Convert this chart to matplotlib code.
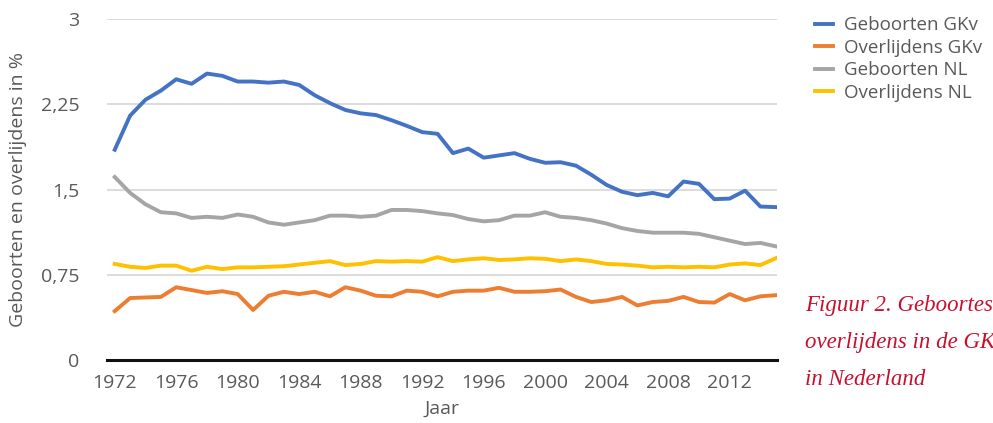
import numpy as np
import matplotlib
matplotlib.use('Agg')
import matplotlib.pyplot as plt
from matplotlib.ticker import FuncFormatter

# data (percentages)
jaren = list(range(1972, 2016))

geboorten_gkv = [1.85, 2.15, 2.29, 2.37, 2.47, 2.43, 2.52, 2.50, 2.45, 2.45,
                 2.44, 2.45, 2.42, 2.33, 2.26, 2.20, 2.17, 2.155, 2.11, 2.06,
                 2.005, 1.99, 1.82, 1.86, 1.78, 1.80, 1.82, 1.77, 1.735, 1.74,
                 1.71, 1.63, 1.54, 1.48, 1.45, 1.47, 1.44, 1.57, 1.55, 1.415,
                 1.42, 1.49, 1.35, 1.345]
overlijdens_gkv = [0.43, 0.545, 0.55, 0.555, 0.64, 0.615, 0.59, 0.605, 0.58, 0.44,
                   0.565, 0.60, 0.58, 0.60, 0.56, 0.64, 0.61, 0.565, 0.56, 0.61,
                   0.60, 0.56, 0.60, 0.61, 0.61, 0.635, 0.60, 0.60, 0.605, 0.62,
                   0.555, 0.51, 0.525, 0.555, 0.48, 0.51, 0.52, 0.555, 0.51, 0.505,
                   0.58, 0.525, 0.56, 0.57]
geboorten_nl = [1.61, 1.47, 1.37, 1.30, 1.29, 1.25, 1.26, 1.25, 1.28, 1.26,
                1.21, 1.19, 1.21, 1.23, 1.27, 1.27, 1.26, 1.27, 1.32, 1.32,
                1.31, 1.29, 1.275, 1.24, 1.22, 1.23, 1.27, 1.27, 1.30, 1.26,
                1.25, 1.23, 1.20, 1.16, 1.135, 1.12, 1.12, 1.12, 1.11, 1.08,
                1.05, 1.02, 1.03, 1.00]
overlijdens_nl = [0.845, 0.82, 0.81, 0.83, 0.83, 0.785, 0.82, 0.80, 0.815, 0.815,
                  0.82, 0.825, 0.84, 0.855, 0.87, 0.835, 0.845, 0.87, 0.865, 0.87,
                  0.865, 0.905, 0.87, 0.885, 0.895, 0.88, 0.885, 0.895, 0.89, 0.87,
                  0.885, 0.87, 0.845, 0.84, 0.83, 0.815, 0.82, 0.815, 0.82, 0.815,
                  0.84, 0.85, 0.835, 0.895]

reeksen = ['Geboorten GKv', 'Overlijdens GKv', 'Geboorten NL', 'Overlijdens NL']
kleuren = ['#4472C4', '#ED7D31', '#A5A5A5', '#FFC000']
y_ticks = [0, 0.75, 1.5, 2.25, 3]
x_ticks = list(range(1972, 2013, 4))

plt.rcParams['font.family'] = ['Open Sans', 'DejaVu Sans']
tekstkleur = '#595959'

fig = plt.figure(figsize=(9.93, 4.23), dpi=100)
ax = fig.add_axes([0.1078, 0.149, 0.675, 0.806])

lijnen = []
for waarden, naam, kleur in zip([geboorten_gkv, overlijdens_gkv, geboorten_nl, overlijdens_nl],
                                reeksen, kleuren):
    l, = ax.plot(jaren, waarden, color=kleur, lw=2.8, label=naam, solid_joinstyle='round')
    lijnen.append(l)

ax.set_xlim(1971.5, 2015.1)
ax.set_ylim(0, 3)
ax.set_yticks(y_ticks)
ax.yaxis.set_major_formatter(FuncFormatter(lambda v, p: ('%g' % v).replace('.', ',')))
ax.set_xticks(x_ticks)
ax.grid(axis='y', color='#d9d9d9', lw=1.3)
ax.set_axisbelow(True)
for s in ['left', 'right', 'top']:
    ax.spines[s].set_visible(False)
ax.spines['bottom'].set_color('#111111')
ax.spines['bottom'].set_linewidth(2.2)
ax.tick_params(length=0, labelsize=14, labelcolor=tekstkleur)
ax.tick_params(axis='y', pad=20)
ax.tick_params(axis='x', pad=10)
ax.set_xlabel('Jaar', fontsize=14, color=tekstkleur, labelpad=6)
ax.set_ylabel('Geboorten en overlijdens in %', fontsize=14, color=tekstkleur, labelpad=10)

fig.legend(handles=lijnen, loc='upper left', bbox_to_anchor=(0.821, 0.962), frameon=False,
           fontsize=13.5, handlelength=0.92, handletextpad=0.6, labelspacing=0.24,
           borderpad=0, borderaxespad=0, labelcolor=tekstkleur)

fig.text(0.811, 0.19, 'Figuur 2. Geboortes en\noverlijdens in de GKv en\nin Nederland',
         family='Liberation Serif', style='italic', fontsize=16.5, color='#c8102e',
         va='center', ha='left', linespacing=2.0)

fig.savefig('out.png', dpi=100)
